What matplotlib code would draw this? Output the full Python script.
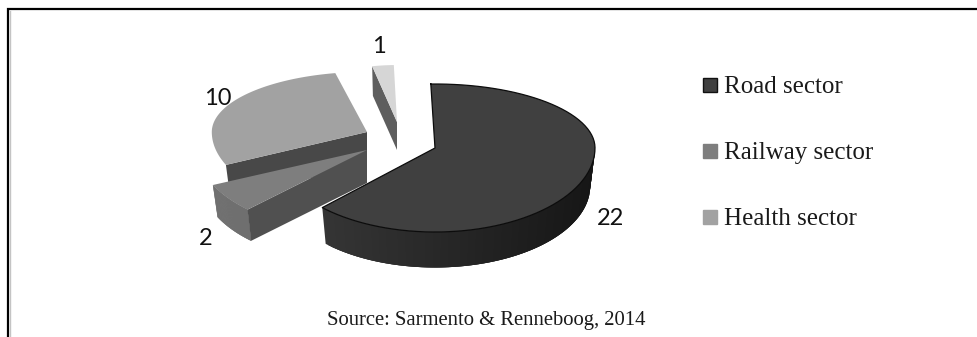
import numpy as np
import matplotlib
matplotlib.use("Agg")
import matplotlib.pyplot as plt
from matplotlib.colors import to_rgb
from matplotlib.patches import Rectangle

# Number of PPP projects per sector
sectors = ["Road sector", "Railway sector", "Health sector", "Other"]
values = [22, 2, 10, 1]
value_labels = ["22", "2", "10", "1"]
legend_sectors = ["Road sector", "Railway sector", "Health sector"]
source_note = "Source: Sarmento & Renneboog, 2014"

W, H = 977, 337
fig = plt.figure(figsize=(W / 100, H / 100), dpi=100)
ax = fig.add_axes([0, 0, 1, 1])
ax.set_xlim(0, W)
ax.set_ylim(H, 0)
ax.axis("off")

# Pie geometry in pixels: tilted disc with a larger near half
CX, CY = 435, 148
RX, RY_BACK, RY_FRONT = 160, 64, 84
BOTTOM_SCALE = 0.97
START_DEG = 91.5

# Per-slice styling: explosion offset, radial stretch, thickness and colours
explode = [(0, 0), (-68, 2), (-68, -16), (-38, -26)]
stretch_x = [1.0, 1.06, 0.97, 0.76]
stretch_y = [1.0, 1.0, 0.94, 0.89]
depths = [38, 33, 33, 28]
top_colors = ["#404040", "#7e7e7e", "#a2a2a2", "#d6d6d6"]
rim_colors = [("#3a3a3a", "#161616"), ("#707070", "#6a6a6a"), None, None]
cut_colors = [None, "#505050", "#484848", "#5e5e5e"]


def project(theta, sx, sy, dx, dy, level, depth):
    """Screen position of a disc point; level 0 is the top face, 1 the bottom."""
    theta = np.asarray(theta, dtype=float)
    s = np.sin(theta)
    ry = np.where(s >= 0, RY_BACK, RY_FRONT)
    k = 1 - level * (1 - BOTTOM_SCALE)
    x = CX + dx + sx * k * RX * np.cos(theta)
    y = CY + dy + sy * k * ry * -s + level * depth
    return x, y


# Sweep clockwise from the top, one slice angle per value
fractions = np.array(values, dtype=float) / sum(values)
edges = np.radians(START_DEG) - 2 * np.pi * np.concatenate([[0], np.cumsum(fractions)])


def draw_slice(i, zorder):
    start, end = edges[i], edges[i + 1]
    dx, dy = explode[i]
    sx, sy, d = stretch_x[i], stretch_y[i], depths[i]
    arc = np.linspace(start, end, 160)
    xc, yc = CX + dx, CY + dy

    # Rim: overlapping short strips so the shade changes along the arc
    if rim_colors[i] is not None:
        front = arc[np.sin(arc) <= 0.05]
        c0, c1 = (np.array(to_rgb(c)) for c in rim_colors[i])
        order = np.argsort(np.cos(front))
        front = front[order]
        for j in range(len(front) - 1):
            piece = front[j:j + 4]
            xt, yt = project(piece, sx, sy, dx, dy, 0, d)
            xb, yb = project(piece[::-1], sx, sy, dx, dy, 1, d)
            t = (np.cos(piece[0]) + 1) / 2
            ax.fill(np.r_[xt, xb], np.r_[yt, yb], color=c0 + (c1 - c0) * t,
                    lw=0, zorder=zorder)

    # Exposed cut face along the leading edge of the slice
    if cut_colors[i] is not None:
        xo, yo = project(start, sx, sy, dx, dy, 0, d)
        xob, yob = project(start, sx, sy, dx, dy, 1, d)
        ax.fill([xc, xo, xob, xc], [yc, yo, yob, yc + d],
                color=cut_colors[i], lw=0, zorder=zorder + 0.1)

    # Top face
    xa, ya = project(arc, sx, sy, dx, dy, 0, d)
    ax.fill(np.r_[xc, xa], np.r_[yc, ya], color=top_colors[i], lw=0,
            zorder=zorder + 0.2)
    if i == 0:
        ax.plot(np.r_[xa, xc, xa[0]], np.r_[ya, yc, ya[0]], color="#0c0c0c",
                lw=0.9, zorder=zorder + 0.3, solid_joinstyle="round")


for order, i in enumerate([3, 2, 1, 0]):
    draw_slice(i, 2 + order)

# Value labels beside their slices
label_font = ["Lato", "DejaVu Sans"]
label_pos = [(611, 225), (206, 245), (218, 105), (379, 53)]
for text, (x, y) in zip(value_labels, label_pos):
    ax.text(x, y, text, fontsize=17, family=label_font, color="#111111",
            ha="center", va="baseline", zorder=10)

# Legend
serif = "Liberation Serif"
legend_y = [85, 151, 217]
swatches = ["#404040", "#7e7e7e", "#a2a2a2"]
for name, y, col in zip(legend_sectors, legend_y, swatches):
    ax.add_patch(Rectangle((703, y - 7), 14, 14, facecolor=col,
                           edgecolor="#111111" if col == "#404040" else col,
                           lw=1.0, zorder=10))
    ax.text(724, y + 8, name, fontsize=18, family=serif, color="#1a1a1a",
            ha="left", va="baseline", zorder=10)

ax.text(486.5, 325, source_note, fontsize=14.9, family=serif, color="#1a1a1a",
        ha="center", va="baseline", zorder=10)

# Box around the chart: top and left sides only
ax.plot([8, 8, W], [H, 9, 9], color="#000000", lw=1.6,
        zorder=1, solid_joinstyle="miter", clip_on=False)
ax.plot([9.5, 9.5], [H, 11], color="#c4c4c4", lw=1.0, zorder=1)

fig.savefig("out.png", dpi=100, facecolor="white")
